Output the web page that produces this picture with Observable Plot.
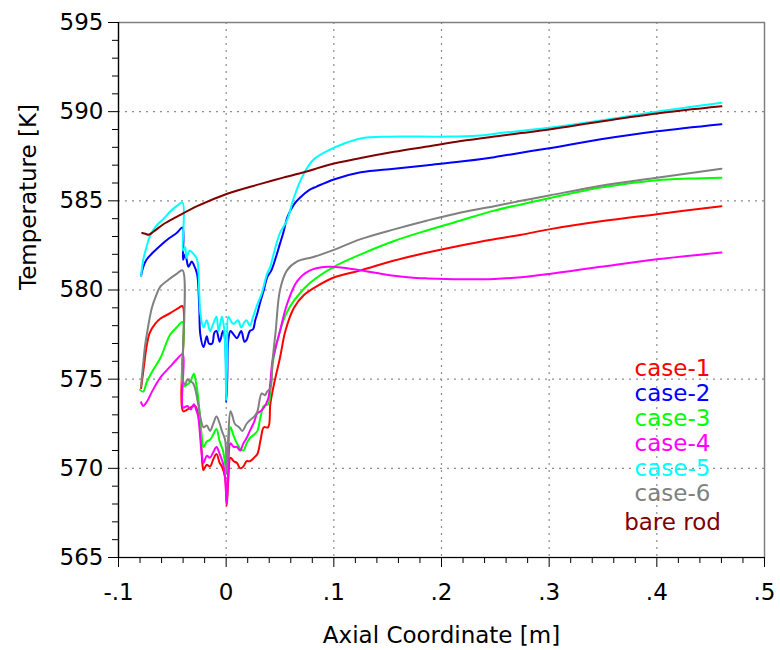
<!DOCTYPE html>
<html><head><meta charset="utf-8">
<script src="https://cdn.jsdelivr.net/npm/d3@7"></script>
<script src="https://cdn.jsdelivr.net/npm/@observablehq/plot@0.6"></script>
<style>body{margin:0;background:#fff}</style>
</head><body><div id="chart"></div>
<script>
// [axial coordinate (m), temperature (K)]
const case1 = [[-0.079,574.5],[-0.076,575.9],[-0.074,576.8],[-0.071,577.6],[-0.066,578.1],[-0.061,578.4],[-0.052,578.7],[-0.044,579.0],[-0.0405,579.1],[-0.040,573.2],[-0.036,573.3],[-0.029,573.5],[-0.025,572.7],[-0.022,570.2],[-0.021,569.9],[-0.018,570.2],[-0.015,570.1],[-0.012,570.5],[-0.009,570.8],[-0.006,570.3],[-0.004,570.1],[-0.001,569.5],[0.0005,567.9],[0.002,569.4],[0.004,570.6],[0.007,570.4],[0.010,570.3],[0.013,570.0],[0.016,570.1],[0.019,570.4],[0.022,570.4],[0.026,570.6],[0.029,570.8],[0.032,571.6],[0.035,572.3],[0.039,572.3],[0.041,573.6],[0.044,574.6],[0.050,576.2],[0.055,577.7],[0.063,579.0],[0.072,579.7],[0.084,580.2],[0.100,580.7],[0.125,581.1],[0.156,581.65],[0.187,582.1],[0.218,582.5],[0.249,582.85],[0.274,583.1],[0.30,583.4],[0.348,583.85],[0.40,584.25],[0.46,584.7]];
const case2 = [[-0.079,580.8],[-0.077,581.3],[-0.074,581.7],[-0.068,582.1],[-0.061,582.5],[-0.053,582.9],[-0.046,583.2],[-0.0405,583.5],[-0.040,581.7],[-0.038,582.0],[-0.035,581.3],[-0.032,581.6],[-0.030,581.4],[-0.027,580.9],[-0.025,579.0],[-0.024,577.5],[-0.021,576.8],[-0.018,577.4],[-0.016,577.0],[-0.013,577.0],[-0.011,577.6],[-0.009,577.7],[-0.006,577.1],[-0.003,577.7],[-0.001,577.2],[0.000,573.7],[0.001,575.0],[0.002,577.2],[0.004,577.7],[0.007,577.5],[0.010,577.3],[0.014,577.7],[0.017,577.1],[0.019,577.2],[0.022,577.7],[0.025,577.8],[0.027,578.3],[0.029,578.7],[0.032,579.4],[0.035,580.0],[0.038,580.7],[0.042,581.1],[0.046,581.8],[0.050,582.6],[0.053,583.2],[0.057,584.1],[0.063,584.8],[0.069,585.2],[0.077,585.6],[0.084,585.8],[0.100,586.2],[0.125,586.6],[0.156,586.8],[0.187,587.0],[0.218,587.2],[0.249,587.45],[0.274,587.7],[0.30,587.95],[0.348,588.45],[0.40,588.9],[0.46,589.3]];
const case3 = [[-0.080,574.4],[-0.077,574.3],[-0.074,574.8],[-0.068,575.5],[-0.061,576.2],[-0.052,577.5],[-0.046,577.9],[-0.0405,578.2],[-0.040,574.6],[-0.036,574.7],[-0.033,574.9],[-0.030,575.3],[-0.028,574.8],[-0.026,574.0],[-0.023,572.0],[-0.021,571.2],[-0.018,571.5],[-0.015,571.6],[-0.012,571.9],[-0.009,572.2],[-0.006,571.5],[-0.003,571.0],[-0.001,570.3],[0.0005,569.7],[0.002,571.0],[0.004,572.3],[0.007,571.8],[0.010,571.4],[0.013,571.1],[0.016,571.0],[0.019,571.4],[0.022,571.7],[0.026,571.9],[0.029,572.1],[0.032,572.9],[0.035,573.5],[0.039,573.6],[0.042,575.0],[0.044,576.2],[0.050,577.7],[0.056,578.7],[0.063,579.4],[0.078,580.4],[0.100,581.3],[0.125,582.0],[0.156,582.75],[0.187,583.35],[0.218,583.9],[0.249,584.45],[0.274,584.8],[0.30,585.15],[0.348,585.75],[0.40,586.15],[0.43,586.25],[0.46,586.3]];
const case4 = [[-0.079,573.7],[-0.077,573.5],[-0.074,573.7],[-0.068,574.4],[-0.061,575.1],[-0.052,575.7],[-0.046,576.1],[-0.0405,576.4],[-0.040,573.4],[-0.036,573.5],[-0.033,573.3],[-0.030,573.6],[-0.028,573.3],[-0.026,572.9],[-0.023,571.0],[-0.021,570.3],[-0.018,570.7],[-0.015,570.6],[-0.012,570.9],[-0.009,571.2],[-0.006,570.8],[-0.003,570.3],[-0.001,569.5],[0.0005,568.0],[0.002,570.0],[0.004,571.4],[0.007,571.2],[0.010,571.2],[0.013,571.0],[0.016,571.4],[0.019,571.7],[0.022,572.1],[0.026,572.6],[0.029,573.1],[0.032,573.2],[0.035,573.4],[0.039,573.9],[0.041,574.8],[0.043,576.0],[0.050,577.7],[0.0565,579.2],[0.066,580.5],[0.078,581.1],[0.094,581.3],[0.109,581.25],[0.125,581.1],[0.14,580.95],[0.156,580.8],[0.171,580.7],[0.187,580.65],[0.218,580.6],[0.249,580.62],[0.274,580.72],[0.30,580.9],[0.348,581.3],[0.40,581.72],[0.46,582.1]];
const case5 = [[-0.079,580.8],[-0.077,581.7],[-0.074,582.4],[-0.071,583.0],[-0.065,583.6],[-0.058,584.0],[-0.052,584.4],[-0.046,584.7],[-0.0405,584.9],[-0.040,582.2],[-0.038,582.4],[-0.037,581.8],[-0.034,582.2],[-0.030,582.0],[-0.027,581.7],[-0.025,579.8],[-0.024,578.7],[-0.021,577.9],[-0.018,578.3],[-0.015,577.7],[-0.012,578.1],[-0.009,578.5],[-0.007,577.7],[-0.004,578.5],[-0.002,577.9],[-0.0005,576.0],[0.000,573.8],[0.001,576.5],[0.002,578.5],[0.005,578.2],[0.007,578.1],[0.011,578.3],[0.014,577.9],[0.017,578.2],[0.019,578.3],[0.022,578.0],[0.025,578.5],[0.029,579.2],[0.033,579.8],[0.038,580.9],[0.041,581.3],[0.044,582.0],[0.050,583.2],[0.0565,583.9],[0.063,585.2],[0.072,586.5],[0.081,587.3],[0.094,587.8],[0.109,588.2],[0.125,588.5],[0.15,588.6],[0.20,588.6],[0.233,588.65],[0.255,588.8],[0.30,589.1],[0.348,589.5],[0.40,590.0],[0.46,590.5]];
const case6 = [[-0.079,574.6],[-0.078,575.3],[-0.077,575.9],[-0.0755,576.8],[-0.074,577.4],[-0.069,579.0],[-0.065,579.7],[-0.061,580.2],[-0.053,580.6],[-0.046,580.9],[-0.0405,581.1],[-0.040,574.9],[-0.038,574.7],[-0.036,575.0],[-0.034,574.9],[-0.031,574.8],[-0.029,574.5],[-0.026,573.6],[-0.023,572.6],[-0.021,572.3],[-0.018,572.4],[-0.015,572.1],[-0.012,572.5],[-0.009,572.9],[-0.006,572.5],[-0.004,572.1],[-0.001,571.6],[0.0005,569.7],[0.002,571.8],[0.004,573.2],[0.006,572.9],[0.008,572.5],[0.012,572.3],[0.015,572.1],[0.019,572.5],[0.022,572.7],[0.026,572.9],[0.029,573.2],[0.033,574.2],[0.036,574.1],[0.038,574.3],[0.041,574.5],[0.043,576.0],[0.046,577.7],[0.050,580.0],[0.0565,581.1],[0.066,581.6],[0.081,581.85],[0.100,582.25],[0.125,582.85],[0.156,583.4],[0.187,583.9],[0.218,584.35],[0.249,584.7],[0.274,585.0],[0.30,585.3],[0.348,585.85],[0.40,586.3],[0.46,586.8]];
const bareRod = [[-0.078,583.2],[-0.075,583.15],[-0.072,583.1],[-0.068,583.25],[-0.058,583.7],[-0.046,584.1],[-0.027,584.7],[0.001,585.4],[0.032,585.95],[0.053,586.3],[0.078,586.7],[0.094,587.0],[0.125,587.4],[0.156,587.75],[0.187,588.05],[0.218,588.35],[0.255,588.65],[0.274,588.8],[0.30,589.0],[0.348,589.45],[0.40,589.9],[0.46,590.3]];

const seriesNames = ["case-1","case-2","case-3","case-4","case-5","case-6","bare rod"];
const seriesColors = ["#ff0000","#0000ff","#00ff00","#ff00ff","#00ffff","#808080","#800000"];
const xMajorTicks = [-0.1,0,0.1,0.2,0.3,0.4,0.5];
const xTickLabels = ["-.1","0",".1",".2",".3",".4",".5"];
const yMajorTicks = [565,570,575,580,585,590,595];
const xTitle = "Axial Coordinate [m]";
const yTitle = "Temperature [K]";

const allSeries = [case1,case2,case3,case4,case5,case6,bareRod];
const xMinor = d3.range(0, 31).map(i => -0.1 + i*0.02).filter(v => !xMajorTicks.some(m => Math.abs(m - v) < 1e-9));
const yMinor = d3.range(565, 596).filter(v => v % 5 !== 0);
const font = 23;

const lineMarks = allSeries.map((s, i) =>
  Plot.line(s, {x: d => d[0], y: d => d[1], stroke: seriesColors[i], strokeWidth: 2, curve: "catmull-rom"}));

const legendMarks = seriesNames.map((name, i) =>
  Plot.text([name], {frameAnchor: "top-left", dx: 554, dy: 346.6 + 25*i + (i === 6 ? 4 : 0),
    fill: seriesColors[i], fontSize: font, textAnchor: "middle", lineAnchor: "middle"}));

const chart = Plot.plot({
  width: 780, height: 650,
  marginLeft: 118, marginRight: 16, marginTop: 22, marginBottom: 93,
  x: {domain: [-0.1, 0.5]},
  y: {domain: [565, 595]},
  style: {fontFamily: "'DejaVu Sans', sans-serif", fontSize: font + "px", background: "#fff", color: "#000"},
  marks: [
    Plot.gridX(xMajorTicks.slice(1, -1), {stroke: "#8c8c8c", strokeOpacity: 1, strokeWidth: 1.2, strokeDasharray: "2,5"}),
    Plot.gridY(yMajorTicks.slice(1, -1), {stroke: "#8c8c8c", strokeOpacity: 1, strokeWidth: 1.2, strokeDasharray: "2,5"}),
    Plot.frame({stroke: "#808080", strokeWidth: 1.5}),
    Plot.ruleX([-0.1], {stroke: "#000", strokeWidth: 1.2}),
    Plot.ruleY([565], {stroke: "#000", strokeWidth: 1.2}),
    Plot.axisX(xMinor, {tickSize: 6, tickFormat: () => "", label: null, stroke: "#000"}),
    Plot.axisX(xMajorTicks, {tickSize: 10, tickPadding: 16, tickFormat: d => xTickLabels[xMajorTicks.indexOf(d)], label: null, fontSize: font}),
    Plot.axisY(yMinor, {tickSize: 6, tickFormat: () => "", label: null}),
    Plot.axisY(yMajorTicks, {tickSize: 10, tickPadding: 5, tickFormat: d => String(d), label: null, fontSize: font}),
    ...lineMarks,
    ...legendMarks,
    Plot.text([xTitle], {frameAnchor: "bottom", dy: 78, fontSize: font, lineAnchor: "middle"}),
    Plot.text([yTitle], {frameAnchor: "left", dx: -90, rotate: -90, fontSize: font, lineAnchor: "middle"})
  ]
});
document.getElementById("chart").appendChild(chart);
</script>
</body></html>
